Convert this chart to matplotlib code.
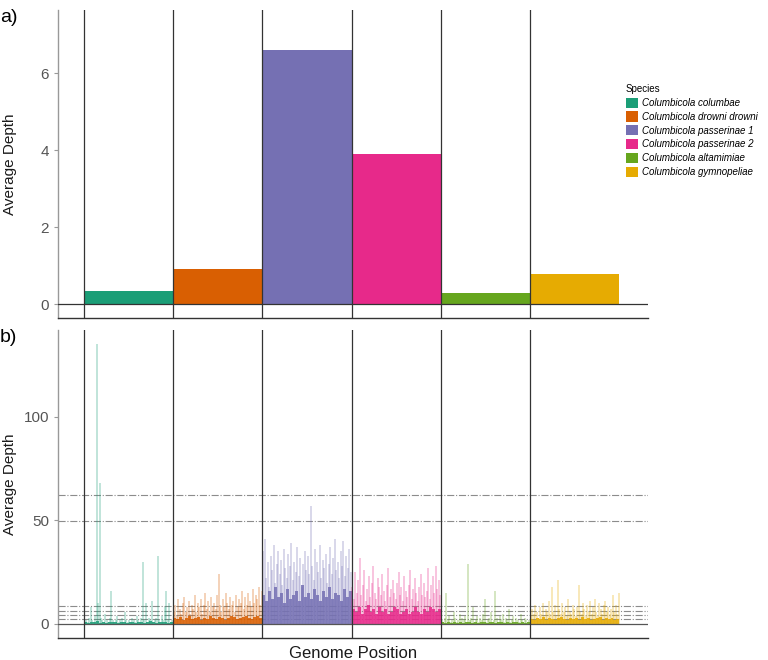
import numpy as np
import matplotlib.pyplot as plt
from matplotlib.patches import Patch

plt.rcParams['font.family'] = ['Liberation Sans', 'DejaVu Sans']

# Species and colours (Dark2)
species = ['Columbicola columbae', 'Columbicola drowni drowni', 'Columbicola passerinae 1',
           'Columbicola passerinae 2', 'Columbicola altamimiae', 'Columbicola gymnopeliae']
colors = ['#1B9E77', '#D95F02', '#7570B3', '#E7298A', '#66A61E', '#E6AB02']

# a) average depth per species
avg_depth = [0.35, 0.91, 6.6, 3.9, 0.29, 0.78]

# b) depth along genome windows (peaks and dense base)
teal_peaks = [1, 2, 1, 3, 8, 2, 1, 4, 135, 10, 68, 3, 2, 1, 5, 2, 1, 3, 16, 2, 1, 2, 4, 1, 2, 3, 1, 6, 2, 1,
              2, 1, 3, 2, 1, 4, 2, 1, 3, 30, 2, 10, 1, 3, 2, 11, 1, 2, 3, 33, 2, 1, 4, 2, 8, 16, 2, 10, 1, 2]
teal_core = [0.8, 0.6, 1.0, 0.7, 1.2, 0.6, 0.9, 0.5, 0.8, 1.1, 0.7, 0.6, 0.9, 0.8, 0.5,
             0.7, 1.0, 0.6, 0.8, 0.9, 0.6, 0.7, 1.2, 0.8, 0.6, 0.9, 0.7, 1.0, 0.6, 0.8]

orange_peaks = [6, 9, 4, 12, 7, 5, 10, 13, 6, 8, 11, 5, 9, 7, 14, 6, 10, 8, 12, 5, 9, 15, 7, 11, 6, 13, 8, 10, 7, 14,
                24, 9, 6, 12, 8, 15, 10, 7, 13, 9, 11, 6, 14, 8, 12, 10, 16, 7, 13, 9, 15, 11, 8, 17, 10, 14, 12, 18, 9, 16]
orange_core = [3, 2.5, 3.5, 2, 3, 4, 2.5, 3, 3.5, 2, 3, 2.5, 4, 3, 2.5,
               3.5, 3, 2, 3, 4, 3.5, 2.5, 3, 3.5, 4, 3, 2.5, 3.5, 4, 3]

purple_peaks = [35, 41, 22, 30, 18, 33, 26, 38, 20, 29, 35, 24, 31, 19, 36, 27, 22, 34, 28, 39, 21, 30, 25, 37, 23, 32, 18, 29, 35, 26,
                33, 24, 57, 28, 21, 36, 30, 25, 38, 22, 31, 27, 34, 20, 29, 37, 24, 32, 41, 26, 30, 22, 35, 28, 40, 23, 33, 27, 36, 25]
purple_core = [14, 11, 16, 12, 18, 13, 15, 10, 17, 12, 14, 16, 11, 19, 13,
               15, 12, 17, 14, 11, 16, 13, 18, 12, 15, 14, 11, 17, 13, 16]

pink_peaks = [18, 12, 25, 15, 21, 32, 14, 19, 26, 11, 17, 23, 13, 20, 28, 15, 12, 22, 18, 14, 24, 16, 11, 19, 27, 13, 17, 21, 15, 12,
              20, 25, 14, 18, 11, 23, 16, 13, 19, 26, 12, 17, 22, 15, 11, 18, 24, 14, 20, 13, 16, 27, 12, 19, 23, 15, 28, 17, 21, 14]
pink_core = [7, 6, 8, 5, 7, 9, 6, 7, 5, 8, 6, 7, 5, 6, 8,
             7, 5, 6, 7, 5, 6, 8, 6, 5, 7, 6, 8, 7, 6, 7]

green_peaks = [2, 1, 3, 15, 2, 4, 1, 2, 6, 3, 1, 2, 5, 1, 3, 2, 4, 1, 29, 2, 3, 8, 1, 2, 4, 1, 3, 2, 5, 12,
               1, 2, 3, 6, 1, 2, 16, 3, 1, 4, 2, 5, 1, 3, 2, 7, 1, 2, 4, 1, 3, 2, 1, 5, 2, 1, 3, 2, 1, 2]
green_core = [0.7, 0.5, 0.9, 0.6, 1.0, 0.5, 0.8, 0.6, 0.7, 1.1, 0.5, 0.8, 0.6, 0.9, 0.7,
              0.5, 0.8, 1.0, 0.6, 0.7, 0.9, 0.5, 0.8, 0.6, 1.0, 0.7, 0.5, 0.9, 0.6, 0.8]

yellow_peaks = [4, 7, 5, 9, 6, 3, 8, 5, 10, 4, 7, 6, 11, 5, 18, 6, 9, 4, 21, 7, 5, 10, 6, 8, 4, 12, 6, 5, 9, 7,
                4, 8, 19, 6, 5, 10, 7, 4, 9, 6, 11, 5, 8, 12, 6, 4, 10, 7, 5, 9, 11, 6, 8, 5, 7, 14, 6, 9, 5, 15]
yellow_core = [2.5, 2, 3, 2.5, 3.5, 2, 3, 2.5, 2, 3, 3.5, 2.5, 2, 3, 2.5,
               3, 2, 3.5, 2.5, 3, 2, 2.5, 3, 3.5, 2, 3, 2.5, 3, 2, 2.5]

peaks = [teal_peaks, orange_peaks, purple_peaks, pink_peaks, green_peaks, yellow_peaks]
cores = [teal_core, orange_core, purple_core, pink_core, green_core, yellow_core]

# threshold lines in panel b
thresholds = [62.3, 49.8, 8.5, 6.1, 4.2, 2.4]

fig = plt.figure(figsize=(7.68, 6.6), dpi=100)
ax1 = fig.add_axes([58/768, 1 - 318/660, 590/768, 308/660])
ax2 = fig.add_axes([58/768, 1 - 638/660, 590/768, 308/660])

xlim = (-0.29, 6.32)
starts = np.arange(len(species))


def style(ax):
    for s in ['top', 'right']:
        ax.spines[s].set_visible(False)
    ax.spines['left'].set_color('#999999')
    ax.spines['left'].set_linewidth(1.0)
    ax.spines['bottom'].set_color('#333333')
    ax.spines['bottom'].set_linewidth(1.0)
    ax.set_xticks([])
    ax.tick_params(axis='y', colors='#999999', labelcolor='#555555', labelsize=11, length=3, width=0.8)
    ax.set_xlim(*xlim)
    ax.set_ylabel('Average Depth', fontsize=11, color='#1a1a1a')
    ax.yaxis.set_label_coords(-0.07, 0.5)


# panel a
ax1.bar(starts + 0.5, avg_depth, width=1.0, color=colors, zorder=2)
ax1.axhline(0, color='#333333', lw=0.9, zorder=3)
for s in starts:
    ax1.axvline(s, color='#333333', lw=0.9, zorder=3)
ax1.set_ylim(-0.36, 7.64)
ax1.set_yticks([0, 2, 4, 6])
style(ax1)

# panel b
for s, pk, cr, c in zip(starts, peaks, cores, colors):
    xp = s + (np.arange(len(pk)) + 0.5) / len(pk)
    ax2.vlines(xp, 0, pk, color=c, alpha=0.28, lw=1.4, zorder=2)
    xc = s + np.arange(len(cr) + 1) / len(cr)
    ax2.fill_between(xc, 0, list(cr) + [cr[-1]], step='post', color=c, alpha=0.85, lw=0, zorder=2)
for t in thresholds:
    ax2.axhline(t, color='#8c8c8c', lw=0.8, ls='-.', zorder=1)
ax2.axhline(0, color='#555555', lw=0.9, zorder=3)
for s in starts:
    ax2.axvline(s, color='#333333', lw=0.9, zorder=3)
ax2.set_ylim(-6.8, 142)
ax2.set_yticks([0, 50, 100])
style(ax2)
ax2.set_xlabel('Genome Position', fontsize=12, color='#1a1a1a', labelpad=6)

fig.text(0.0, 1 - 18/660, 'a)', fontsize=14, va='center', ha='left')
fig.text(0.0, 1 - 338/660, 'b)', fontsize=14, va='center', ha='left')

handles = [Patch(facecolor=c, edgecolor='none') for c in colors]
leg = fig.legend(handles, species, loc='upper left', bbox_to_anchor=(626/768, 1 - 84/660),
                 frameon=False, title='Species', prop={'style': 'italic', 'size': 7},
                 title_fontsize=7, handlelength=1.23, handleheight=1.23, handletextpad=0.4,
                 labelspacing=0.36, borderaxespad=0, borderpad=0)
leg._legend_box.align = 'left'

fig.savefig('out.png', dpi=100)
